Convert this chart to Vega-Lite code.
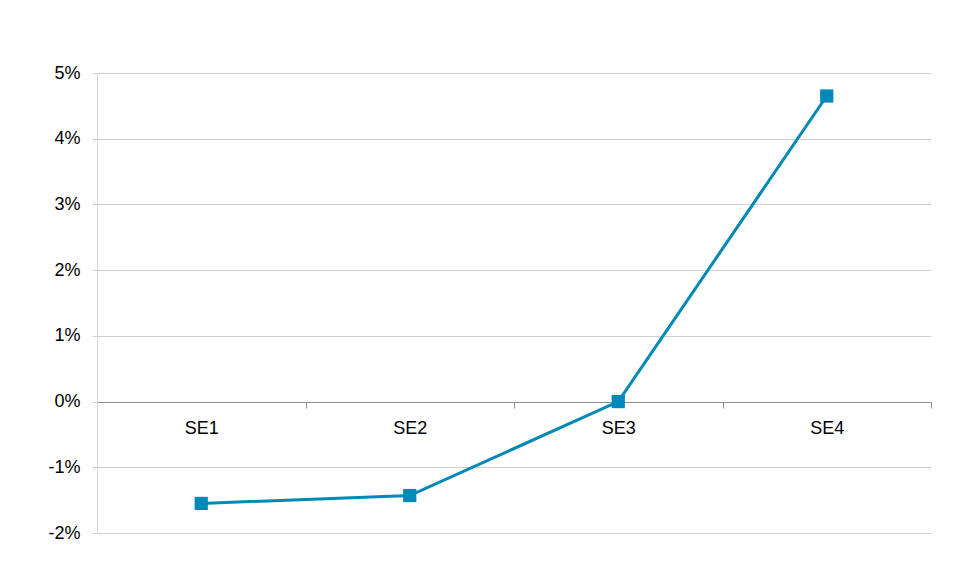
{
  "$schema": "https://vega.github.io/schema/vega-lite/v6.json",
  "autosize": {"type": "none"},
  "width": 834,
  "height": 460,
  "padding": {"left": 97, "top": 73, "right": 26, "bottom": 49},
  "background": "white",
  "config": {
    "view": {"stroke": null},
    "font": "Liberation Sans"
  },
  "data": {
    "values": [
      {"segment": "SE1", "value": -0.0155},
      {"segment": "SE2", "value": -0.0143},
      {"segment": "SE3", "value": 0.0},
      {"segment": "SE4", "value": 0.0465}
    ]
  },
  "encoding": {
    "x": {
      "field": "segment",
      "type": "nominal",
      "sort": null,
      "scale": {"type": "band", "paddingInner": 0, "paddingOuter": 0},
      "axis": {
        "title": null,
        "orient": "bottom",
        "offset": -131,
        "labelAngle": 0,
        "tickBand": "extent",
        "grid": false,
        "domainColor": "#8c8c8c",
        "domainWidth": 1,
        "tickColor": "#8c8c8c",
        "tickSize": 6,
        "labelFontSize": 18,
        "labelColor": "#000000",
        "labelPadding": 11
      }
    },
    "y": {
      "field": "value",
      "type": "quantitative",
      "scale": {"domain": [-0.02, 0.05], "nice": false, "zero": false},
      "axis": {
        "title": null,
        "values": [-0.02, -0.01, 0, 0.01, 0.02, 0.03, 0.04, 0.05],
        "labelExpr": "round(datum.value*100) + '%'",
        "grid": true,
        "gridColor": "#cfcfcf",
        "domainColor": "#d4d4d4",
        "tickColor": "#cfcfcf",
        "tickSize": 5,
        "labelFontSize": 18,
        "labelColor": "#000000",
        "labelPadding": 12
      }
    }
  },
  "layer": [
    {"mark": {"type": "line", "color": "#0089b8", "strokeWidth": 3}},
    {"mark": {"type": "square", "color": "#0089b8", "filled": true, "opacity": 1, "size": 175}}
  ]
}
